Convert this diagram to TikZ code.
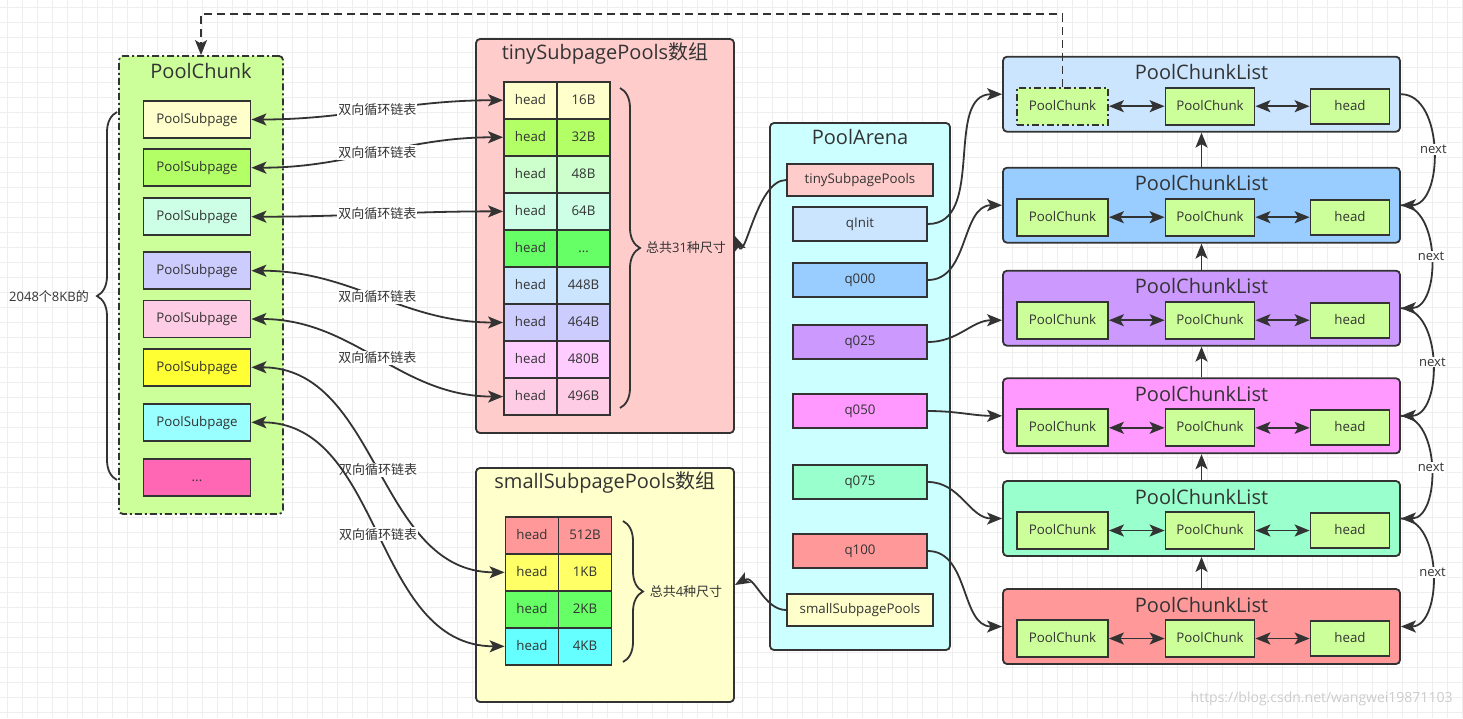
\documentclass[tikz,border=0pt]{standalone}
\usepackage{fontspec}
\setmainfont{Open Sans}
\newfontfamily\cjk{Noto Sans CJK SC}
\usetikzlibrary{arrows.meta,decorations.pathreplacing}

\definecolor{ink}{HTML}{333333}
\definecolor{chunkgreen}{HTML}{CCFF99}
\definecolor{paleyellow}{HTML}{FFFFCC}
\definecolor{lime}{HTML}{B3FF66}
\definecolor{mint}{HTML}{CCFFE6}
\definecolor{palegreen}{HTML}{CCFFCC}
\definecolor{brightgreen}{HTML}{66FF66}
\definecolor{lavender}{HTML}{CCCCFF}
\definecolor{blush}{HTML}{FFCCE6}
\definecolor{lemon}{HTML}{FFFF33}
\definecolor{aqua}{HTML}{99FFFF}
\definecolor{hotpink}{HTML}{FF66B3}
\definecolor{rosepink}{HTML}{FFCCCC}
\definecolor{iceblue}{HTML}{CCE5FF}
\definecolor{skyblue}{HTML}{99CCFF}
\definecolor{lilac}{HTML}{CC99FF}
\definecolor{orchid}{HTML}{FF99FF}
\definecolor{seafoam}{HTML}{99FFCC}
\definecolor{salmon}{HTML}{FF9999}
\definecolor{pinkpale}{HTML}{FFCCFF}
\definecolor{yellowmid}{HTML}{FFFF66}
\definecolor{cyanmid}{HTML}{66FFFF}
\definecolor{arenacyan}{HTML}{CCFFFF}

\tikzset{
  >={Stealth[length=15pt,width=12pt,inset=3.5pt]},
  gridline/.style={draw=gray!13, line width=0.6pt},
  group/.style={draw=ink, line width=1.8pt, rounded corners=4pt, inner sep=0pt},
  dashdot/.style={dash pattern=on 7pt off 3pt on 2pt off 3pt},
  boxtitle/.style={text=ink, font=\fontsize{20}{20}\selectfont, inner sep=0pt},
  slot/.style={draw=ink, line width=1.8pt, text=ink, font=\fontsize{13.3}{13.3}\selectfont, inner sep=0pt, minimum height=37pt, text height=0.76em, text depth=0pt},
  cell/.style={slot, minimum width=53pt},
  lbl/.style={text=ink, font=\fontsize{13}{13}\selectfont, inner sep=1pt},
  arr/.style={draw=ink, line width=1.8pt, ->},
  dblarr/.style={draw=ink, line width=1.8pt, <->},
  brc/.style={draw=ink, line width=1.8pt, decorate, decoration={brace, amplitude=20pt}},
}

\begin{document}
\begin{tikzpicture}[x=1pt, y=-1pt]
\useasboundingbox (0,0) rectangle (1463,718);
\fill[white] (0,0) rectangle (1463,718);
% background grid
\foreach \x in {7.5,22.5,...,1463} \draw[gridline] (\x,0) -- (\x,718);
\foreach \y in {7.5,22.5,...,718} \draw[gridline] (0,\y) -- (1463,\y);

% PoolChunk
\node[group, dashdot, fill=chunkgreen, minimum width=164pt, minimum height=458pt] (pc) at (201,285) {};
\node[boxtitle] (pct) at (201,71) {PoolChunk};
\foreach \col/\y [count=\i] in {paleyellow/119.5, lime/167.7, mint/216.7, lavender/270.7, blush/319, lemon/367.3, aqua/422.3}
  \node[slot, fill=\col, minimum width=107pt] (ps\i) at (197,\y) {PoolSubpage};
\node[slot, fill=hotpink, minimum width=107pt] (ps8) at (197,477.7) {...};
\draw[brc] (117,480) -- (117,112);
\node[lbl] (chunkcount) at (49,297) {2048{\cjk 个}8KB{\cjk 的}};

% tinySubpagePools
\node[group, fill=rosepink, minimum width=258pt, minimum height=394pt] (tiny) at (605,236) {};
\node[boxtitle] (tinyt) at (605,53) {tinySubpagePools{\cjk 数组}};
\foreach \sz/\col [count=\i] in {16B/paleyellow, 32B/lime, 48B/palegreen, 64B/mint, {\dots}/brightgreen, 448B/iceblue, 464B/lavender, 480B/pinkpale, 496B/blush} {
  \node[cell, fill=\col] (th\i) at (530.5,63.2+37.04*\i) {head};
  \node[cell, fill=\col] (ts\i) at (583.5,63.2+37.04*\i) {\sz};
}
\draw[brc] (620,88) -- (620,408);
\node[lbl] (tinycount) at (686,248) {{\cjk 总共}31{\cjk 种尺寸}};

% smallSubpagePools
\node[group, fill=paleyellow, minimum width=258pt, minimum height=234pt] (small) at (605,585) {};
\node[boxtitle] (smallt) at (605,482) {smallSubpagePools{\cjk 数组}};
\foreach \sz/\col [count=\i] in {512B/salmon, 1KB/yellowmid, 2KB/brightgreen, 4KB/cyanmid} {
  \node[cell, fill=\col] (sh\i) at (532,498.3+37*\i) {head};
  \node[cell, fill=\col] (ss\i) at (585,498.3+37*\i) {\sz};
}
\draw[brc] (623,521) -- (623,662);
\node[lbl] (smallcount) at (686,592) {{\cjk 总共}4{\cjk 种尺寸}};

% PoolArena
\node[group, fill=arenacyan, minimum width=180pt, minimum height=527pt] (arena) at (860,386.5) {};
\node[boxtitle] (arenat) at (860,137) {PoolArena};
\node[slot, fill=rosepink, minimum width=146pt, minimum height=32pt] (atiny) at (860,180) {tinySubpagePools};
\foreach \nm/\txt/\col/\y in {qi/qInit/iceblue/224, qa/q000/skyblue/280, qb/q025/lilac/342, qc/q050/orchid/411, qd/q075/seafoam/482, qe/q100/salmon/551}
  \node[slot, fill=\col, minimum width=134pt, minimum height=34pt] (\nm) at (860,\y) {\txt};
\node[slot, fill=paleyellow, minimum width=146pt, minimum height=32pt] (asmall) at (860,610) {smallSubpagePools};

% PoolChunkList column
\foreach \col/\y [count=\i] in {iceblue/94.2, skyblue/205.2, lilac/308.2, orchid/415.8, seafoam/518.5, salmon/626.5} {
  \ifnum\i=1 \def\firststy{dashdot}\else\def\firststy{}\fi
  \node[group, fill=\col, minimum width=397pt, minimum height=75pt] (l\i) at (1201.5,\y) {};
  \node[boxtitle] (lt\i) at (1201.5,\y-22) {PoolChunkList};
  \node[slot, \firststy, fill=chunkgreen, minimum width=91pt] (la\i) at (1062.5,\y+12) {PoolChunk};
  \node[slot, fill=chunkgreen, minimum width=89pt] (lb\i) at (1210,\y+12) {PoolChunk};
  \node[slot, fill=chunkgreen, minimum width=79pt, minimum height=35pt] (lh\i) at (1350,\y+12) {head};
  \draw[dblarr] (la\i) -- (lb\i);
  \draw[dblarr] (lb\i) -- (lh\i);
}
\foreach \j [count=\i from 2] in {1,...,5} {
  \draw[arr] (l\i.north) -- (l\j.south);
  \draw[arr] (l\j.east) to[out=0, in=0] node[lbl, fill=white] {next} (l\i.east);
}

% links
\foreach \a/\b in {ps1/th1, ps2/th2, ps3/th4, ps4/th7, ps5/th9, ps6/sh2, ps7/sh4}
  \draw[dblarr] (\a.east) to[out=0, in=180] node[lbl, fill=white] {\cjk 双向循环链表} (\b.west);
\foreach \src/\dst/\s in {qi/l1/0, qa/l2/0, qb/l3/-12, qc/l4/0, qd/l5/0, qe/l6/0}
  \draw[arr] (\src.east) to[out=0, in=180] ([yshift=\s pt]\dst.west);
\draw[arr] (atiny.west) to[out=180, in=-70] (tiny.east);
\draw[arr] (asmall.west) to[out=180, in=30] (small.east);
\coordinate (loopup) at (0,14);
\draw[arr, dash pattern=on 8pt off 5pt] (la1.north) -- (la1.north |- loopup) -| (pc.north);

\node[text=gray!40, font=\fontsize{14}{14}\selectfont, anchor=east] (mark) at (1456,699) {https://blog.csdn.net/wangwei19871103};
\end{tikzpicture}
\end{document}
